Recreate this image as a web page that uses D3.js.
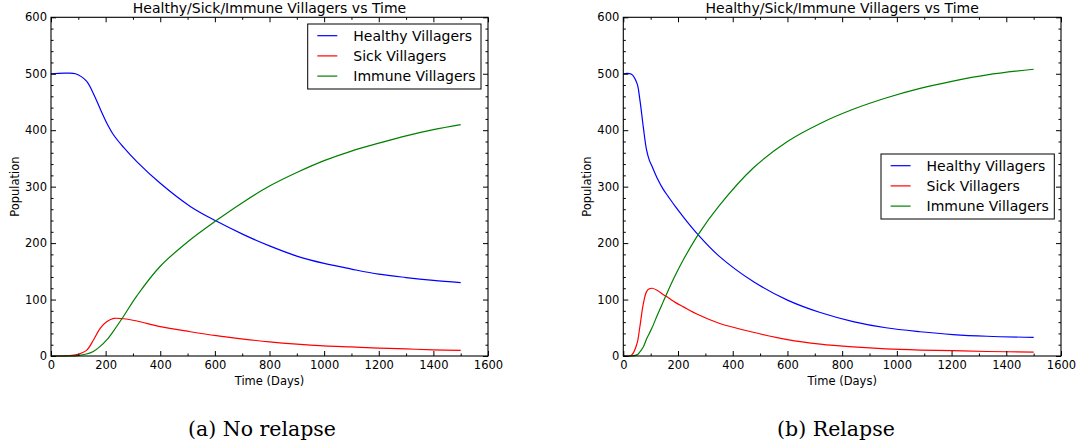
<!DOCTYPE html>
<html lang="en">

<head>
    <meta charset="UTF-8">
    <title>Healthy/Sick/Immune Villagers vs Time</title>
    <script src="https://d3js.org/d3.v7.min.js"></script>
    <style>
        body,
        html {
            margin: 0px;
            background: #fff;
        }

        .axis text {
            font-family: "DejaVu Sans", sans-serif;
            font-size: 11.5px;
            fill: #000;
        }

        .axis line {
            stroke: #000;
            stroke-width: 1px;
        }
    </style>
</head>

<body>
    <div id="chart"></div>

    <script>
        // ---- data ----
        const seriesNames = ["Healthy Villagers", "Sick Villagers", "Immune Villagers"]
        const seriesColors = ["#0000ff", "#ff0000", "#008000"]

        // (a) no relapse
        const daysNoRelapse = [0, 50, 90, 130, 155, 180, 205, 230, 265, 315, 400, 510, 605, 705, 800, 900, 1000, 1100, 1200, 1300, 1400, 1500]
        const healthyNoRelapse = [500, 501, 500, 487, 465, 438, 412, 391, 370, 344, 306, 265, 239, 215, 195, 177, 164, 154, 145, 139, 134, 130]
        const sickNoRelapse = [0, 0.3, 2, 10, 28, 49, 61, 66.5, 66, 62, 52, 43, 36, 30, 25, 21, 18, 16, 14, 12.5, 11, 10]
        const immuneNoRelapse = [0, 0, 0.3, 3.5, 8, 17, 29, 45, 70, 107, 159, 206, 240, 273, 301, 325, 346, 363, 377, 390, 401, 410]

        // (b) relapse
        const daysRelapse = [0, 30, 50, 60, 73, 85, 95, 105, 125, 145, 165, 190, 220, 275, 350, 475, 600, 720, 840, 960, 1085, 1205, 1330, 1500]
        const healthyRelapse = [500, 499, 483, 456, 406, 365, 347, 336, 314, 296, 282, 265, 246, 214, 177, 132, 99, 77, 61, 50, 43, 38, 35, 33]
        const sickRelapse = [0, 1.5, 22, 50, 92, 114, 119, 120, 116, 109, 103, 95, 87, 73, 58, 42, 29, 21, 16, 12.5, 10.5, 9.4, 8, 7]
        const immuneRelapse = [0, 0, 2, 7, 16, 30, 40, 50, 73, 95, 117, 143, 171, 216, 266, 333, 380, 412, 437, 457, 474, 487, 498, 508]

        const xMajorTicks = [0, 200, 400, 600, 800, 1000, 1200, 1400, 1600]
        const xMinorTicks = d3.range(100, 1600, 200)
        const yMajorTicks = [0, 100, 200, 300, 400, 500, 600]
        const yMinorTicks = d3.range(0, 601, 20).filter(v => v % 100 !== 0)

        const titleText = "Healthy/Sick/Immune Villagers vs Time"
        const xLabel = "Time (Days)"
        const yLabel = "Population"
        const captions = ["(a) No relapse", "(b) Relapse"]

        const width = 1081
        const height = 447

        const svg = d3.select("#chart")
            .append("svg")
            .attr("width", width)
            .attr("height", height)

        const panels = [
            {
                left: 51, right: 488, days: daysNoRelapse,
                series: [healthyNoRelapse, sickNoRelapse, immuneNoRelapse],
                legend: { x: 307.7, y: 24 }, caption: captions[0], captionX: 262
            },
            {
                left: 623.3, right: 1061, days: daysRelapse,
                series: [healthyRelapse, sickRelapse, immuneRelapse],
                legend: { x: 881, y: 154 }, caption: captions[1], captionX: 836
            }
        ]

        panels.forEach(p => drawPanel(p))

        function drawPanel(p) {
            const top = 17.3, bottom = 356
            const x = d3.scaleLinear().domain([0, 1600]).range([p.left, p.right])
            const y = d3.scaleLinear().domain([0, 600]).range([bottom, top])

            const g = svg.append("g")

            // lines
            const line = d3.line()
                .x(d => x(d[0]))
                .y(d => y(d[1]))
                .curve(d3.curveCatmullRom.alpha(0.5))

            p.series.forEach((vals, i) => {
                g.append("path")
                    .datum(p.days.map((t, j) => [t, vals[j]]))
                    .attr("d", line)
                    .attr("fill", "none")
                    .attr("stroke", seriesColors[i])
                    .attr("stroke-width", 1.2)
            })

            // axes (ticks inward on all four sides)
            const fmt = d3.format("d")
            const axes = [
                { a: d3.axisBottom(x).tickValues(xMajorTicks).tickSize(-5).tickPadding(5).tickFormat(fmt), t: `translate(0,${bottom})` },
                { a: d3.axisBottom(x).tickValues(xMinorTicks).tickSize(-2.5).tickFormat(""), t: `translate(0,${bottom})` },
                { a: d3.axisTop(x).tickValues(xMajorTicks).tickSize(-5).tickFormat(""), t: `translate(0,${top})` },
                { a: d3.axisTop(x).tickValues(xMinorTicks).tickSize(-2.5).tickFormat(""), t: `translate(0,${top})` },
                { a: d3.axisLeft(y).tickValues(yMajorTicks).tickSize(-5).tickPadding(4).tickFormat(fmt), t: `translate(${p.left},0)` },
                { a: d3.axisLeft(y).tickValues(yMinorTicks).tickSize(-2.5).tickFormat(""), t: `translate(${p.left},0)` },
                { a: d3.axisRight(y).tickValues(yMajorTicks).tickSize(-5).tickFormat(""), t: `translate(${p.right},0)` },
                { a: d3.axisRight(y).tickValues(yMinorTicks).tickSize(-2.5).tickFormat(""), t: `translate(${p.right},0)` }
            ]
            axes.forEach(ax => {
                const ag = g.append("g")
                    .attr("class", "axis")
                    .attr("transform", ax.t)
                    .call(ax.a)
                ag.select(".domain").remove()
                ag.attr("font-size", null).attr("font-family", null)
            })

            // frame
            g.append("rect")
                .attr("x", p.left)
                .attr("y", top)
                .attr("width", p.right - p.left)
                .attr("height", bottom - top)
                .attr("fill", "none")
                .attr("stroke", "#000")
                .attr("stroke-width", 1.1)

            // title + axis labels
            g.append("text")
                .attr("x", (p.left + p.right) / 2)
                .attr("y", 13.3)
                .attr("text-anchor", "middle")
                .style("font-family", "DejaVu Sans")
                .style("font-size", "14px")
                .text(titleText)

            g.append("text")
                .attr("x", (p.left + p.right) / 2)
                .attr("y", 384.5)
                .attr("text-anchor", "middle")
                .style("font-family", "DejaVu Sans")
                .style("font-size", "11.5px")
                .text(xLabel)

            g.append("text")
                .attr("transform", `translate(${p.left - 32},${(top + bottom) / 2}) rotate(-90)`)
                .attr("text-anchor", "middle")
                .style("font-family", "DejaVu Sans")
                .style("font-size", "11.5px")
                .text(yLabel)

            // legend
            const lg = g.append("g")
                .attr("transform", `translate(${p.legend.x},${p.legend.y})`)
            lg.append("rect")
                .attr("width", 173.3)
                .attr("height", 65)
                .attr("fill", "#fff")
                .attr("stroke", "#000")
                .attr("stroke-width", 1)
            seriesNames.forEach((name, i) => {
                const cy = 11.7 + i * 20.2
                lg.append("line")
                    .attr("x1", 9.6).attr("x2", 29.6)
                    .attr("y1", cy).attr("y2", cy)
                    .attr("stroke", seriesColors[i])
                    .attr("stroke-width", 1.2)
                lg.append("text")
                    .attr("x", 45.6)
                    .attr("y", cy + 5)
                    .style("font-family", "DejaVu Sans")
                    .style("font-size", "14px")
                    .text(name)
            })

            // caption
            svg.append("text")
                .attr("x", p.captionX)
                .attr("y", 435.7)
                .attr("text-anchor", "middle")
                .style("font-family", "DejaVu Serif")
                .style("font-size", "20.5px")
                .text(p.caption)
        }
    </script>
</body>

</html>
